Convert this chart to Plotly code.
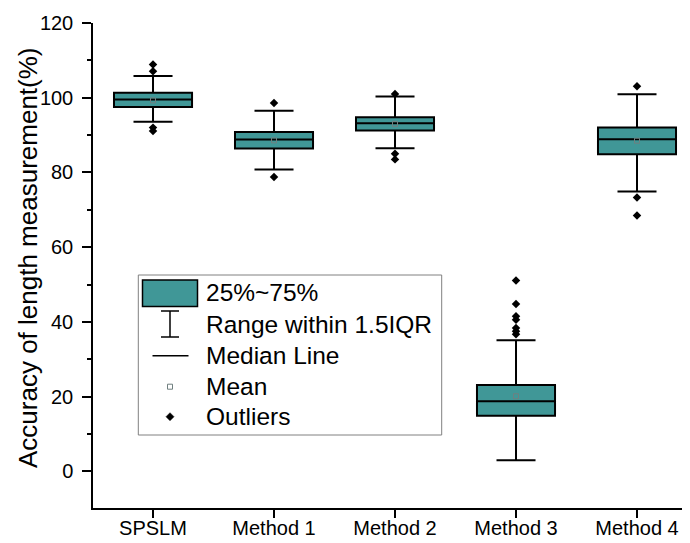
import plotly.graph_objects as go

# ---- data ----
categories = ["SPSLM", "Method 1", "Method 2", "Method 3", "Method 4"]
q1 = [97.5, 86.4, 91.2, 14.9, 84.9]
median = [99.5, 88.8, 93.2, 18.8, 88.9]
q3 = [101.3, 90.8, 94.8, 23.1, 92.0]
lower_fence = [93.6, 80.8, 86.5, 3.0, 74.9]
upper_fence = [105.8, 96.5, 100.3, 35.1, 100.9]
means = [99.3, 88.6, 93.0, 20.1, 88.5]
outliers = {
    "SPSLM": [108.9, 107.1, 92.0, 91.1],
    "Method 1": [98.6, 78.8],
    "Method 2": [101.0, 85.0, 83.5],
    "Method 3": [51.1, 44.8, 41.5, 40.6, 38.4, 37.5, 36.7],
    "Method 4": [103.1, 73.3, 68.5],
}
y_ticks = [0, 20, 40, 60, 80, 100, 120]
legend_labels = ["25%~75%", "Range within 1.5IQR", "Median Line", "Mean", "Outliers"]

TEAL = "#409797"
FONT = "Liberation Sans, Arial, sans-serif"

# page body has an 8px margin; figure sized to fit the window
OFF = 8
FW, FH = 682, 535
ML, MR, MT, MB = 85, 0, 15, 35
PW, PH = FW - ML - MR, FH - MT - MB


def px(x):
    """window pixel x -> paper x"""
    return (x - OFF - ML) / PW


def py(y):
    """window pixel y -> paper y"""
    return (FH - MB - (y - OFF)) / PH


fig = go.Figure()

fig.add_trace(go.Box(
    x=categories, q1=q1, median=median, q3=q3,
    lowerfence=lower_fence, upperfence=upper_fence,
    width=0.645, whiskerwidth=0.5,
    fillcolor=TEAL, line=dict(color="black", width=2),
    boxpoints=False, showlegend=False, hoverinfo="skip",
))

ox, oy = [], []
for c in categories:
    for v in outliers[c]:
        ox.append(c)
        oy.append(v)
fig.add_trace(go.Scatter(
    x=ox, y=oy, mode="markers",
    marker=dict(symbol="diamond", size=6.5, color="black"),
    showlegend=False, hoverinfo="skip",
))

fig.add_trace(go.Scatter(
    x=categories, y=means, mode="markers",
    marker=dict(symbol="square-open", size=5, color="#6f7f7f", line=dict(width=1)),
    showlegend=False, hoverinfo="skip",
))

fig.update_layout(
    width=FW, height=FH,
    margin=dict(l=ML, r=MR, t=MT, b=MB),
    paper_bgcolor="white", plot_bgcolor="white",
    font=dict(family=FONT, size=20, color="black"),
    showlegend=False,
)

fig.update_xaxes(
    type="category", range=[-0.496, 4.438], automargin=False,
    showline=True, linecolor="black", linewidth=1.5,
    ticks="outside", ticklen=8, tickwidth=1.5, tickcolor="black",
    showgrid=False, zeroline=False,
    tickfont=dict(size=20, family=FONT),
    ticklabelstandoff=-7,
)
fig.update_yaxes(
    range=[-9.8, 120], tickvals=y_ticks, automargin=False,
    showline=True, linecolor="black", linewidth=1.5,
    ticks="outside", ticklen=9, tickwidth=1.5, tickcolor="black",
    minor=dict(dtick=10, tick0=0, ticks="outside", ticklen=4, tickwidth=1.5, tickcolor="black"),
    showgrid=False, zeroline=False,
    tickfont=dict(size=20, family=FONT),
    ticklabelstandoff=5,
)

# y-axis title
fig.add_annotation(
    text="Accuracy of length measurement(%)", textangle=-90,
    xref="paper", yref="paper", x=px(28), y=py(258),
    xanchor="center", yanchor="middle", showarrow=False,
    font=dict(size=26, family=FONT, color="black"),
)

# ---- custom legend ----
shapes = []
shapes.append(dict(type="rect", xref="paper", yref="paper",
                   x0=px(138.3), x1=px(441.7), y0=py(435), y1=py(275),
                   line=dict(color="#808080", width=1), fillcolor="white", layer="above"))
shapes.append(dict(type="rect", xref="paper", yref="paper",
                   x0=px(142.5), x1=px(197.5), y0=py(306.5), y1=py(280),
                   line=dict(color="black", width=1.5), fillcolor=TEAL, layer="above"))
for (x0, y0, x1, y1) in [(170, 311, 170, 337), (161, 311, 179, 311), (161, 337, 179, 337)]:
    shapes.append(dict(type="line", xref="paper", yref="paper",
                       x0=px(x0), x1=px(x1), y0=py(y0), y1=py(y1),
                       line=dict(color="black", width=1.5), layer="above"))
shapes.append(dict(type="line", xref="paper", yref="paper",
                   x0=px(152.5), x1=px(188.5), y0=py(355.7), y1=py(355.7),
                   line=dict(color="black", width=1.5), layer="above"))
shapes.append(dict(type="rect", xref="paper", yref="paper",
                   x0=px(167.5), x1=px(172.5), y0=py(389.2), y1=py(384.2),
                   line=dict(color="#6f7f7f", width=1), fillcolor="white", layer="above"))
shapes.append(dict(type="path", xref="paper", yref="paper",
                   path=f"M {px(170)} {py(412.7)} L {px(174)} {py(416.7)} L {px(170)} {py(420.7)} L {px(166)} {py(416.7)} Z",
                   line=dict(color="black", width=0.5), fillcolor="black", layer="above"))
fig.update_layout(shapes=shapes)

row_y = [292.7, 324.3, 355.7, 386.7, 416.7]
for lab, yy in zip(legend_labels, row_y):
    fig.add_annotation(
        text=lab, xref="paper", yref="paper", x=px(204), y=py(yy),
        xanchor="left", yanchor="middle", showarrow=False,
        font=dict(size=24.5, family=FONT, color="black"),
    )

fig.write_html("out.html")
